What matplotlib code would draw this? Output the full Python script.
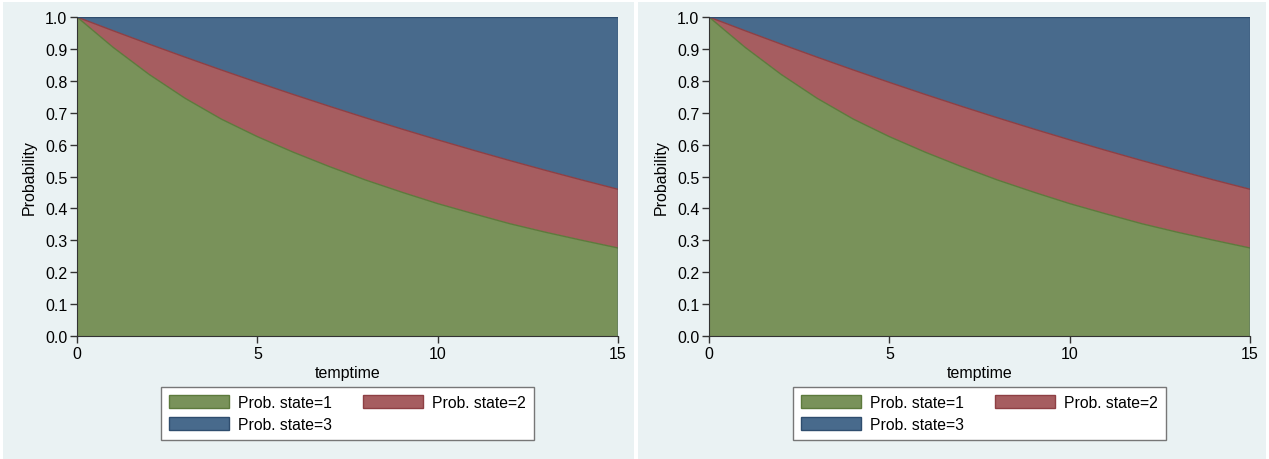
import matplotlib.pyplot as plt
import matplotlib.patches as mpatches
import numpy as np

plt.rcParams['font.family'] = ['Liberation Sans', 'DejaVu Sans']

# data
temptime = [0, 1, 2, 3, 4, 5, 6, 7, 8, 9, 10, 11, 12, 13, 14, 15]
prob_state1 = [1.0, 0.905, 0.820, 0.745, 0.680, 0.625, 0.576, 0.531, 0.489, 0.451, 0.415, 0.383, 0.352, 0.325, 0.300, 0.276]
prob_cum12 = [1.0, 0.957, 0.915, 0.874, 0.834, 0.795, 0.757, 0.720, 0.684, 0.649, 0.615, 0.582, 0.550, 0.519, 0.489, 0.460]
xticks = [0, 5, 10, 15]
yticks = [0.0, 0.1, 0.2, 0.3, 0.4, 0.5, 0.6, 0.7, 0.8, 0.9, 1.0]
labels = ['Prob. state=1', 'Prob. state=2', 'Prob. state=3']

fills = ['#79925a', '#a65d60', '#486a8c']
edges = ['#5d7a3c', '#8e3f44', '#2f4d6e']
bg = '#eaf2f3'

t = np.array(temptime)
s1 = np.array(prob_state1)
s2 = np.array(prob_cum12) - s1
s3 = 1 - np.array(prob_cum12)

fig = plt.figure(figsize=(12.69, 4.6), dpi=100)
fig.patch.set_facecolor('white')
# panel backgrounds
fig.add_artist(mpatches.Rectangle((3/1269, 0), 631/1269, 457/460, transform=fig.transFigure,
                                  facecolor=bg, edgecolor='none', zorder=0))
fig.add_artist(mpatches.Rectangle((638/1269, 0), 628/1269, 457/460, transform=fig.transFigure,
                                  facecolor=bg, edgecolor='none', zorder=0))

for left in [77, 709]:
    ax = fig.add_axes([left/1269, 123/460, 541/1269, 319/460])
    ax.set_facecolor('white')
    ax.stackplot(t, s1, s2, s3, colors=fills, edgecolor='none')
    base = np.zeros_like(s1)
    for vals, ec in zip([s1, s2, s3], edges):
        base = base + vals
        ax.plot(t, base, color=ec, lw=1.0)
    ax.plot([15, 15], [0, 1], color=edges[2], lw=1.0)
    ax.set_xlim(0, 15)
    ax.set_ylim(0, 1)
    ax.set_xticks(xticks)
    ax.set_yticks(yticks)
    ax.set_yticklabels([f'{v:.1f}' for v in yticks])
    ax.tick_params(labelsize=11.5, length=5, color='#333333', width=1, pad=2)
    for s in ['top', 'right']:
        ax.spines[s].set_visible(False)
    for s in ['left', 'bottom']:
        ax.spines[s].set_color('#333333')
    ax.set_xlabel('temptime', fontsize=11.5, labelpad=3)
    ax.set_ylabel('Probability', fontsize=11.5, labelpad=6)
    handles = [mpatches.Patch(facecolor=f, edgecolor=e) for f, e in zip(fills, edges)]
    order = [0, 2, 1]
    leg = ax.legend([handles[i] for i in order], [labels[i] for i in order],
                    loc='upper center', bbox_to_anchor=(0.5, -0.16), ncol=2,
                    fancybox=False, edgecolor='#777777', fontsize=11.3,
                    handlelength=3.8, handleheight=0.95, columnspacing=1.95,
                    borderpad=0.5, labelspacing=0.42, handletextpad=0.6,
                    borderaxespad=0, framealpha=1)
    leg.get_frame().set_linewidth(1.0)

fig.savefig('out.png', dpi=100, facecolor=fig.get_facecolor())
